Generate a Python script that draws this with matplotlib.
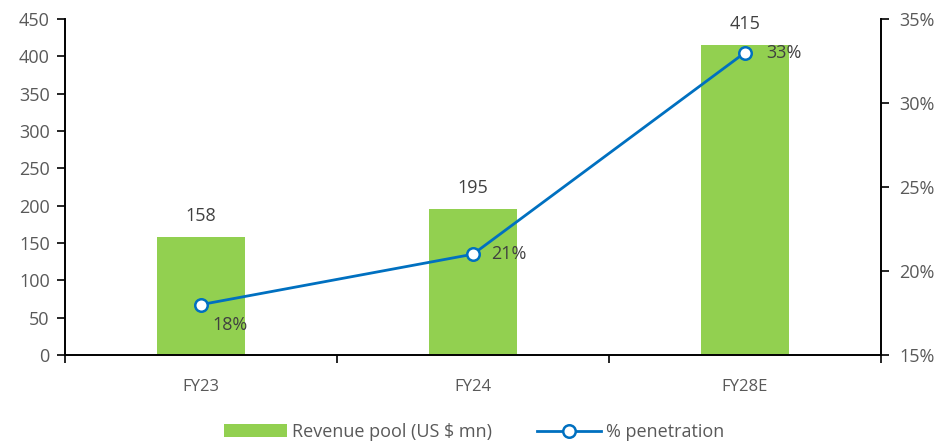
import matplotlib
matplotlib.use("Agg")
import matplotlib.pyplot as plt
from matplotlib.ticker import FuncFormatter

categories = ["FY23", "FY24", "FY28E"]
revenue_pool = [158, 195, 415]
penetration = [18, 21, 33]

GREEN = "#92D050"
BLUE = "#0070C0"
TXT = "#595959"
FS = 13

plt.rcParams["font.family"] = ["Open Sans", "DejaVu Sans"]

fig = plt.figure(figsize=(9.48, 4.43), dpi=100)
ax = fig.add_axes([65 / 948, 1 - 355 / 443, 816 / 948, 336 / 443])
ax2 = ax.twinx()

x = list(range(len(categories)))
bars = ax.bar(x, revenue_pool, width=0.32, color=GREEN, zorder=2,
              label="Revenue pool (US $ mn)")
ax.set_xlim(-0.5, 2.5)
ax.set_ylim(0, 450)
ax.set_yticks(range(0, 451, 50))
ax.set_xticks([-0.5, 0.5, 1.5, 2.5], minor=False)
ax.set_xticklabels([])
ax.set_xticks(x, minor=True)
ax.set_xticklabels(categories, minor=True)
ax.tick_params(axis="x", which="major", direction="out", length=6, width=1.2, color="black")
ax.tick_params(axis="x", which="minor", length=0, pad=17, labelsize=FS - 1, labelcolor=TXT)
ax.tick_params(axis="y", direction="out", length=6, width=1.2, labelsize=FS, labelcolor=TXT, pad=5)

for xi, v in zip(x, revenue_pool):
    ax.annotate(f"{v}", (xi, v), xytext=(0, 9), textcoords="offset points",
                ha="center", va="bottom", fontsize=FS, color="#404040")

line, = ax2.plot(x, penetration, color=BLUE, lw=2, marker="o", ms=9,
                 mfc="white", mec=BLUE, mew=1.8, zorder=3, label="% penetration")
ax2.set_ylim(15, 35)
ax2.set_yticks(range(15, 36, 5))
ax2.yaxis.set_major_formatter(FuncFormatter(lambda v, p: f"{v:.0f}%"))
ax2.tick_params(axis="y", direction="out", length=6, width=1.2, labelsize=FS, labelcolor=TXT, pad=7)

offsets = [(8, -15), (13, 0), (15, 0)]
for xi, v, (dx, dy) in zip(x, penetration, offsets):
    ax2.annotate(f"{v}%", (xi, v), xytext=(dx, dy), textcoords="offset points",
                 ha="left", va="center", fontsize=FS, color="#404040")

for a in (ax, ax2):
    a.spines["top"].set_visible(False)
    for s in ("left", "right", "bottom"):
        a.spines[s].set_linewidth(1.4)
        a.spines[s].set_color("black")
ax.spines["right"].set_visible(False)
ax2.spines["left"].set_visible(False)
ax2.spines["bottom"].set_visible(False)

fig.legend([bars, line], ["Revenue pool (US $ mn)", "% penetration"],
           loc="center", bbox_to_anchor=(0.5, 1 - 432 / 443), ncol=2,
           frameon=False, fontsize=FS, labelcolor=TXT, handlelength=3.5,
           columnspacing=2.5, handletextpad=0.3)

fig.savefig("out.png", dpi=100)
